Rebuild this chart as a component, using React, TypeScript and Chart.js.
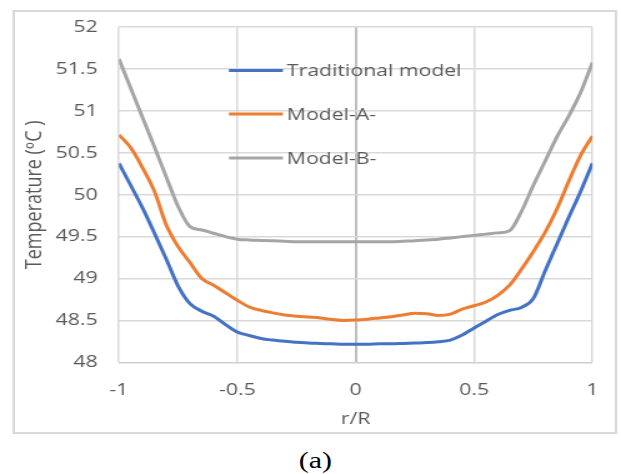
import React, { useEffect, useRef } from "react";
import { Chart, registerables } from "chart.js";
Chart.register(...registerables);

const rValues = [-1, -0.95, -0.9, -0.85, -0.8, -0.75, -0.7, -0.65, -0.6, -0.55, -0.5, -0.45, -0.4, -0.35, -0.3, -0.25, -0.2, -0.15, -0.1, -0.05, 0, 0.05, 0.1, 0.15, 0.2, 0.25, 0.3, 0.35, 0.4, 0.45, 0.5, 0.55, 0.6, 0.65, 0.7, 0.75, 0.8, 0.85, 0.9, 0.95, 1];

const traditionalModel = [50.375, 50.11, 49.84, 49.54, 49.23, 48.91, 48.7, 48.61, 48.55, 48.45, 48.36, 48.32, 48.285, 48.265, 48.25, 48.24, 48.23, 48.225, 48.22, 48.215, 48.215, 48.215, 48.22, 48.22, 48.225, 48.23, 48.235, 48.245, 48.265, 48.325, 48.41, 48.49, 48.57, 48.62, 48.655, 48.76, 49.09, 49.41, 49.73, 50.04, 50.375];

const modelA = [50.716, 50.56, 50.32, 50.04, 49.64, 49.38, 49.19, 49.0, 48.92, 48.83, 48.74, 48.66, 48.62, 48.59, 48.565, 48.55, 48.54, 48.53, 48.51, 48.5, 48.505, 48.515, 48.53, 48.545, 48.565, 48.585, 48.58, 48.56, 48.575, 48.635, 48.675, 48.72, 48.8, 48.92, 49.11, 49.32, 49.55, 49.83, 50.16, 50.47, 50.7];

const modelB = [51.62, 51.27, 50.92, 50.57, 50.21, 49.86, 49.62, 49.58, 49.54, 49.5, 49.47, 49.46, 49.455, 49.45, 49.445, 49.44, 49.44, 49.44, 49.44, 49.44, 49.44, 49.44, 49.44, 49.44, 49.445, 49.45, 49.46, 49.47, 49.485, 49.5, 49.515, 49.53, 49.545, 49.57, 49.8, 50.11, 50.4, 50.69, 50.94, 51.22, 51.58];

const seriesLabels = ["Traditional model", "Model-A-", "Model-B-"];
const xTicks = [-1, -0.5, 0, 0.5, 1];
const yTicks = [48, 48.5, 49, 49.5, 50, 50.5, 51, 51.5, 52];

const FONT = '"Open Sans", "DejaVu Sans", sans-serif';
const TEXT = "#595959";
const W = 497;
const H = 440;
const S = 621 / W;

const insideLegend = {
  id: "insideLegend",
  afterDatasetsDraw(chart: any) {
    const ctx = chart.ctx;
    const rows = [70.5, 114, 158];
    ctx.save();
    chart.data.datasets.forEach((ds: any, i: number) => {
      const y = rows[i];
      ctx.strokeStyle = ds.borderColor;
      ctx.lineWidth = 3;
      ctx.beginPath();
      ctx.moveTo(183.2, y);
      ctx.lineTo(226.4, y);
      ctx.stroke();
      ctx.fillStyle = TEXT;
      ctx.font = `17px ${FONT}`;
      ctx.textBaseline = "middle";
      ctx.textAlign = "left";
      ctx.fillText(ds.label, 229.6, y + 1);
    });
    ctx.restore();
  },
};

export default function App() {
  const ref = useRef<HTMLCanvasElement>(null);
  useEffect(() => {
    if (!ref.current) return;
    const colors = ["#4472C4", "#ED7D31", "#A5A5A5"];
    const series = [traditionalModel, modelA, modelB];
    const chart = new Chart(ref.current, {
      type: "line",
      data: {
        datasets: series.map((vals, i) => ({
          label: seriesLabels[i],
          data: rValues.map((r, j) => ({ x: r, y: vals[j] })),
          borderColor: colors[i],
          backgroundColor: colors[i],
          borderWidth: 3,
          pointRadius: 0,
          cubicInterpolationMode: "monotone" as const,
          fill: false,
        })),
      },
      options: {
        animation: false,
        responsive: false,
        devicePixelRatio: 1,
        layout: { padding: { left: 0, right: 20.2, top: 22.7, bottom: 7.7 } },
        plugins: { legend: { display: false }, tooltip: { enabled: false } },
        scales: {
          x: {
            type: "linear",
            min: -1,
            max: 1,
            afterFit: (s: any) => { s.height = 70; },
            afterBuildTicks: (s: any) => { s.ticks = xTicks.map((v) => ({ value: v })); },
            grid: {
              drawTicks: false,
              color: (c: any) => (c.tick && c.tick.value === 0 ? "#bfbfbf" : "#d9d9d9"),
              lineWidth: (c: any) => (c.tick && c.tick.value === 0 ? 2 : 1.5),
            },
            border: { display: false },
            ticks: { color: TEXT, font: { family: FONT, size: 17 }, padding: 18, maxRotation: 0, callback: (v: any) => String(v) },
            title: { display: true, text: "r/R", color: TEXT, font: { family: FONT, size: 17 }, padding: { top: 0, bottom: 3 } },
          },
          y: {
            min: 48,
            max: 52,
            afterFit: (s: any) => { s.width = 95.2; },
            afterBuildTicks: (s: any) => { s.ticks = yTicks.map((v) => ({ value: v })); },
            grid: {
              drawTicks: false,
              color: (c: any) => (c.tick && c.tick.value === 48 ? "#cfcfcf" : "#d9d9d9"),
              lineWidth: 1.5,
            },
            border: { display: false },
            ticks: { color: TEXT, font: { family: FONT, size: 17 }, padding: 17, callback: (v: any) => String(v) },
            title: { display: true, text: "Temperature (ᵒC )", color: TEXT, font: { family: FONT, size: 18 }, padding: { top: 17, bottom: 0 } },
          },
        },
      },
      plugins: [insideLegend],
    });
    return () => chart.destroy();
  }, []);

  return (
    <div style={{ position: "fixed", left: 0, top: 0, width: W, height: 474, transform: `scaleX(${S})`, transformOrigin: "0 0", background: "#fff", overflow: "hidden" }}>
      <div style={{ position: "absolute", left: 10.4, top: 10, width: 483.2, height: 424, border: "2px solid #d9d9d9", boxSizing: "border-box" }} />
      <canvas ref={ref} width={W} height={H} style={{ position: "absolute", left: 0, top: 0, width: W, height: H, display: "block" }} />
      <div style={{ position: "absolute", left: 0, top: 446, width: 504.8, textAlign: "center", fontFamily: '"Liberation Serif", "Times New Roman", serif', fontSize: 24, lineHeight: "28px", color: "#000" }}>(a)</div>
    </div>
  );
}
